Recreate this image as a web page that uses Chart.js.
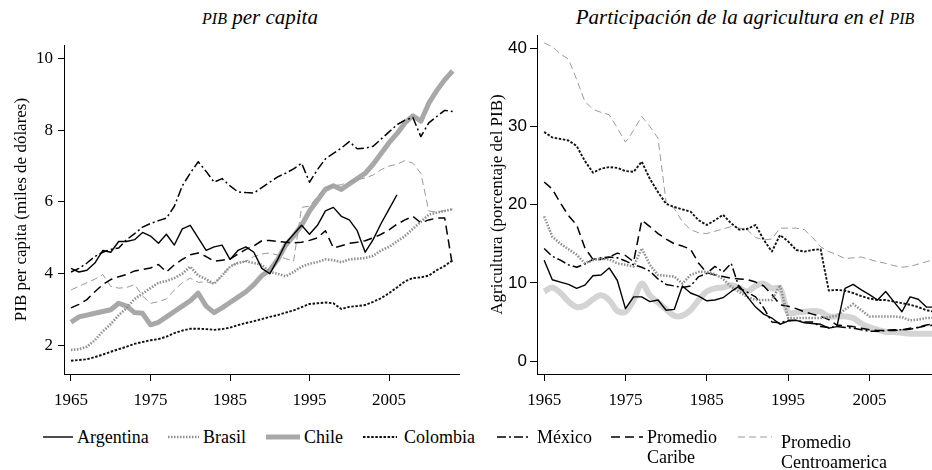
<!DOCTYPE html>
<html><head><meta charset="utf-8">
<script src="https://cdn.jsdelivr.net/npm/chart.js@4.4.1/dist/chart.umd.min.js"></script>
<style>
html,body{margin:0;padding:0;width:932px;height:470px;overflow:hidden;background:#fff;}
#wrap{position:relative;width:932px;height:470px;overflow:hidden;}
.title{position:absolute;top:5px;font-family:"Liberation Serif",serif;font-style:italic;font-size:21px;line-height:24px;white-space:nowrap;transform:translateX(-50%);color:#000;}
.sc{font-size:16px;}
#c1{position:absolute;left:0;top:0;}
#c2{position:absolute;left:460px;top:0;}
.leg{position:absolute;font-family:"Liberation Serif",serif;font-size:18px;line-height:20px;white-space:nowrap;color:#000;}
.sw{position:absolute;}
</style></head>
<body><div id="wrap">
<div class="title" style="left:260px"><span class="sc">PIB</span> per capita</div>
<div class="title" style="left:745px">Participación de la agricultura en el <span class="sc">PIB</span></div>
<canvas id="c1" width="470" height="420"></canvas>
<canvas id="c2" width="490" height="420"></canvas>
<div id="legend"></div>
</div>
<script>
// ---- categories ----
const years = [1965,1966,1967,1968,1969,1970,1971,1972,1973,1974,
  1975,1976,1977,1978,1979,1980,1981,1982,1983,1984,
  1985,1986,1987,1988,1989,1990,1991,1992,1993,1994,
  1995,1996,1997,1998,1999,2000,2001,2002,2003,2004,
  2005,2006,2007,2008,2009,2010,2011,2012,2013];
const seriesNames = ['Argentina','Brasil','Chile','Colombia','México','Promedio Caribe','Promedio Centroamerica'];
const xTicks = [1965,1975,1985,1995,2005];
const gdpTicks = [2,4,6,8,10];
const agrTicks = [0,10,20,30,40];

// ---- PIB per capita (miles de dólares) ----
const gdpArgentina = [4.15,4.05,4.1,4.3,4.65,4.6,4.9,4.9,4.95,5.15,
  5.05,4.85,5.1,4.8,5.25,5.35,5.0,4.65,4.75,4.8,
  4.4,4.65,4.75,4.6,4.15,4.0,4.4,4.85,5.1,5.35,
  5.1,5.35,5.75,5.85,5.6,5.5,5.2,4.6,4.95,5.4,
  5.8,6.2,null,null,null,null,null,null,null];
const gdpBrasil = [1.88,1.9,1.97,2.15,2.4,2.6,2.85,3.05,3.3,3.45,
  3.6,3.75,3.8,3.88,4.0,4.2,3.95,3.85,3.72,3.95,
  4.2,4.3,4.35,4.3,4.25,4.05,4.0,3.93,4.05,4.2,
  4.28,4.33,4.4,4.38,4.32,4.4,4.42,4.44,4.5,4.65,
  4.75,4.9,5.05,5.25,5.45,5.65,5.7,5.75,5.8];
const gdpChile = [2.65,2.8,2.85,2.9,2.95,3.0,3.18,3.1,2.92,2.9,
  2.58,2.65,2.8,2.95,3.1,3.25,3.46,3.1,2.92,3.05,
  3.2,3.35,3.5,3.7,3.95,4.1,4.4,4.8,5.05,5.35,
  5.75,6.05,6.35,6.45,6.35,6.5,6.65,6.8,7.05,7.35,
  7.65,7.9,8.2,8.4,8.25,8.75,9.1,9.4,9.65];
const gdpColombia = [1.58,1.6,1.62,1.68,1.75,1.83,1.9,1.97,2.05,2.1,
  2.15,2.18,2.25,2.35,2.42,2.47,2.47,2.46,2.44,2.46,
  2.5,2.57,2.63,2.68,2.74,2.8,2.85,2.92,2.98,3.07,
  3.16,3.18,3.2,3.18,3.02,3.08,3.1,3.13,3.22,3.32,
  3.46,3.62,3.79,3.88,3.9,3.95,4.1,4.22,4.38];
const gdpMexico = [4.05,4.15,4.3,4.48,4.6,4.68,4.72,4.95,5.12,5.3,
  5.4,5.48,5.55,5.88,6.45,6.8,7.12,6.85,6.55,6.65,
  6.45,6.28,6.26,6.25,6.4,6.55,6.7,6.8,6.92,7.08,
  6.55,6.9,7.2,7.35,7.5,7.68,7.48,7.5,7.55,7.75,
  7.95,8.15,8.28,8.35,7.82,8.2,8.38,8.55,8.52];
const gdpCaribe = [3.05,3.15,3.28,3.5,3.7,3.84,3.92,3.98,4.08,4.12,
  4.16,4.26,4.05,4.25,4.4,4.53,4.58,4.48,4.35,4.38,
  4.41,4.55,4.68,4.78,4.92,4.93,4.9,4.88,4.86,4.88,
  4.93,5.0,5.2,4.72,4.78,4.85,4.88,4.92,5.0,5.1,
  5.22,5.38,5.5,5.6,5.42,5.5,5.55,5.55,4.2];
const gdpCentro = [3.55,3.65,3.75,3.85,3.98,3.65,3.6,3.62,3.7,3.38,
  3.18,3.22,3.3,3.55,3.75,3.88,3.76,3.78,3.72,3.95,
  4.22,4.3,4.35,4.48,4.55,4.58,4.52,4.42,4.35,5.85,
  5.88,6.15,6.4,6.45,6.48,6.55,6.62,6.67,6.75,6.9,
  7.0,7.05,7.15,7.08,6.8,5.75,5.72,5.76,5.8];

// ---- Agricultura (porcentaje del PIB) ----
const agrArgentina = [12.9,10.4,10.1,9.8,9.3,9.7,10.9,11.0,11.9,10.3,
  6.7,8.2,8.2,7.6,7.8,6.5,6.6,9.6,8.7,8.3,
  7.7,7.8,8.1,8.9,9.6,8.2,6.9,6.0,5.5,4.7,
  5.1,5.2,4.9,4.8,4.7,4.2,4.4,9.3,9.8,9.1,
  8.5,7.8,8.9,7.6,6.3,8.2,7.9,6.9,6.9];
const agrBrasil = [18.5,15.9,15.0,14.3,13.6,12.5,12.9,13.1,13.0,12.5,
  12.3,12.1,14.4,12.3,11.0,10.9,10.8,9.9,11.0,11.4,
  11.4,11.1,10.5,9.5,8.8,8.2,7.8,7.8,7.8,9.7,
  5.5,5.5,5.5,5.5,5.5,5.6,5.8,6.6,7.3,6.5,
  5.7,5.7,5.7,5.7,5.6,5.2,5.3,5.5,5.5];
const agrChile = [8.9,9.4,8.7,7.6,6.9,7.1,7.9,8.4,7.8,6.4,
  6.3,7.8,9.9,8.4,7.5,6.6,5.8,5.8,6.5,7.8,
  8.9,9.3,9.4,9.7,9.3,8.9,9.6,9.9,9.3,9.3,
  6.2,6.2,6.3,6.4,6.3,5.7,5.7,5.7,5.5,4.8,
  4.3,4.0,3.75,3.7,3.6,3.5,3.5,3.5,3.5];
const agrColombia = [29.3,28.6,28.4,28.2,27.5,25.6,24.1,24.6,24.8,24.7,
  24.3,24.2,25.5,23.3,21.6,20.1,19.7,19.4,19.1,18.0,
  17.4,18.0,18.7,17.6,16.8,16.9,17.4,15.5,14.0,16.1,
  15.3,14.2,14.0,14.2,14.3,9.0,9.1,9.0,8.7,8.3,
  8.0,7.8,7.8,7.6,7.4,7.2,6.9,6.5,6.3];
const agrMexico = [14.4,13.4,12.9,12.3,12.0,12.4,13.0,13.2,13.3,13.2,
  12.8,12.3,12.0,11.5,10.5,9.8,9.6,9.4,9.6,10.8,
  11.2,12.1,11.4,12.5,9.3,8.8,8.2,6.8,5.0,4.9,
  5.2,5.2,5.0,5.0,4.4,4.3,4.4,4.3,4.2,4.0,
  3.8,3.8,3.9,4.0,4.0,4.05,4.3,4.6,4.8];
const agrCaribe = [22.9,22.0,20.2,18.6,17.4,14.5,13.0,13.0,13.3,13.8,
  13.5,12.7,18.0,17.2,16.3,15.6,15.0,14.7,14.3,12.5,
  11.3,11.0,10.8,10.6,10.5,10.4,10.1,9.6,8.5,7.2,
  7.0,6.7,6.3,6.0,5.7,5.3,4.6,4.5,4.4,4.2,
  4.0,3.9,3.9,3.9,4.0,4.2,4.3,4.5,4.6];
const agrCentro = [40.7,40.2,39.3,38.6,36.0,33.2,32.2,31.8,31.5,29.8,
  28.0,29.5,31.3,30.0,28.5,20.3,19.5,17.8,16.8,16.4,
  16.3,16.6,16.9,17.2,17.0,16.75,15.8,15.5,15.6,17.0,
  17.0,17.0,16.8,15.8,14.6,14.0,13.6,13.1,13.2,13.3,
  13.0,12.7,12.5,12.2,12.0,12.1,12.4,12.7,13.0];

// ---- styles ----
const lineStyles = [
  {color:'#000000', width:1.4, dash:[], order:1},
  {color:'#8f8f8f', width:2.6, dash:[1.5,1.5], order:2},
  {color:'#a8a8a8', width:5, dash:[], order:10, color2:'#d4d4d4', width2:6, tension2:0.35},
  {color:'#111111', width:1.9, dash:[2.5,1.6], order:3},
  {color:'#000000', width:1.5, dash:[9,3,2,3], order:4},
  {color:'#000000', width:1.5, dash:[9,5], order:5},
  {color:'#9a9a9a', width:1, dash:[7,4], order:6}
];
const gdpSeries = [gdpArgentina,gdpBrasil,gdpChile,gdpColombia,gdpMexico,gdpCaribe,gdpCentro];
const agrSeries = [agrArgentina,agrBrasil,agrChile,agrColombia,agrMexico,agrCaribe,agrCentro];

function makeDatasets(series, right){
  return series.map((vals,i)=>{
    const s = lineStyles[i];
    return {
      label: seriesNames[i],
      data: years.map((y,j)=>({x:y, y:vals[j]})),
      borderColor: (right && s.color2) ? s.color2 : s.color,
      borderWidth: (right && s.width2) ? s.width2 : s.width,
      borderDash: s.dash,
      tension: (right && s.tension2) ? s.tension2 : 0,
      borderCapStyle:'butt',
      borderJoinStyle:'round',
      pointRadius:0,
      spanGaps:false,
      fill:false,
      order: s.order
    };
  });
}

const serif = 'Liberation Serif';
function makeChart(el, series, cfg){
  return new Chart(el, {
    type:'line',
    data:{datasets: makeDatasets(series, cfg.right)},
    options:{
      responsive:false, animation:false, devicePixelRatio:1,
      layout:{padding:{top:cfg.padTop, right:cfg.padRight, left:0, bottom:0}},
      plugins:{legend:{display:false}, tooltip:{enabled:false}},
      scales:{
        x:{
          type:'linear', min:1964.12, max:2013.8,
          afterBuildTicks: s=>{ s.ticks = xTicks.map(v=>({value:v})); },
          afterFit: s=>{ s.height = 46; },
          grid:{display:true, drawOnChartArea:false, drawTicks:true, tickLength:7, color:'#000', lineWidth:1},
          border:{display:true, color:'#000', width:1},
          ticks:{font:{family:serif, size:17}, color:'#000', padding:9, maxRotation:0, autoSkip:false, callback:v=>String(v)}
        },
        y:{
          type:'linear', min:cfg.yMin, max:cfg.yMax,
          afterBuildTicks: s=>{ s.ticks = cfg.yTicks.map(v=>({value:v})); },
          afterFit: s=>{ s.width = cfg.yWidth; },
          grid:{display:true, drawOnChartArea:false, drawTicks:true, tickLength:cfg.yTickLen, color:'#000', lineWidth:1},
          border:{display:true, color:'#000', width:1},
          ticks:{font:{family:cfg.yFont, size:17}, color:'#000', padding:cfg.yPad, autoSkip:false, callback:v=>String(v)},
          title:{display:true, text:cfg.yTitle, font:{family:serif, size:17}, color:'#000', padding:{top:cfg.titlePad, bottom:0}}
        }
      }
    }
  });
}

makeChart(document.getElementById('c1'), gdpSeries, {
  right:false, padTop:45, padRight:11, yMin:1.21, yMax:10.37, yTicks:gdpTicks, yWidth:64,
  yTickLen:6, yPad:5, yFont:serif, yTitle:'PIB per capita (miles de dólares)', titlePad:11
});
makeChart(document.getElementById('c2'), agrSeries, {
  right:true, padTop:35, padRight:9, yMin:-1.66, yMax:41.7, yTicks:agrTicks, yWidth:77,
  yTickLen:7, yPad:3, yFont:'Liberation Sans', yTitle:'Agricultura (porcentaje del PIB)', titlePad:27
});

// ---- legend (HTML, styled from lineStyles) ----
const legendLayout = [
  {sx:43, sw:30, tx:77, top:427},
  {sx:168, sw:31, tx:203, top:427},
  {sx:266, sw:34, tx:304, top:427},
  {sx:363, sw:34, tx:404, top:427},
  {sx:497, sw:34, tx:537, top:427},
  {sx:611, sw:32, tx:647, top:427},
  {sx:738, sw:34, tx:781, top:432}
];
const legendLines = [['Argentina'],['Brasil'],['Chile'],['Colombia'],['México'],['Promedio','Caribe'],['Promedio','Centroamerica']];
const leg = document.getElementById('legend');
legendLayout.forEach((p,i)=>{
  const s = lineStyles[i];
  const svgNS='http://www.w3.org/2000/svg';
  const svg=document.createElementNS(svgNS,'svg');
  svg.setAttribute('width',p.sw); svg.setAttribute('height',10);
  svg.setAttribute('class','sw');
  svg.style.left=p.sx+'px'; svg.style.top='432px';
  const ln=document.createElementNS(svgNS,'line');
  ln.setAttribute('x1',0); ln.setAttribute('x2',p.sw); ln.setAttribute('y1',5); ln.setAttribute('y2',5);
  ln.setAttribute('stroke', s.color);
  ln.setAttribute('stroke-width', s.width);
  if(s.dash.length) ln.setAttribute('stroke-dasharray', s.dash.join(','));
  svg.appendChild(ln); leg.appendChild(svg);
  const d=document.createElement('div');
  d.className='leg'; d.style.left=p.tx+'px'; d.style.top=p.top+'px';
  d.innerHTML = legendLines[i].join('<br>');
  leg.appendChild(d);
});
</script>
</body></html>
